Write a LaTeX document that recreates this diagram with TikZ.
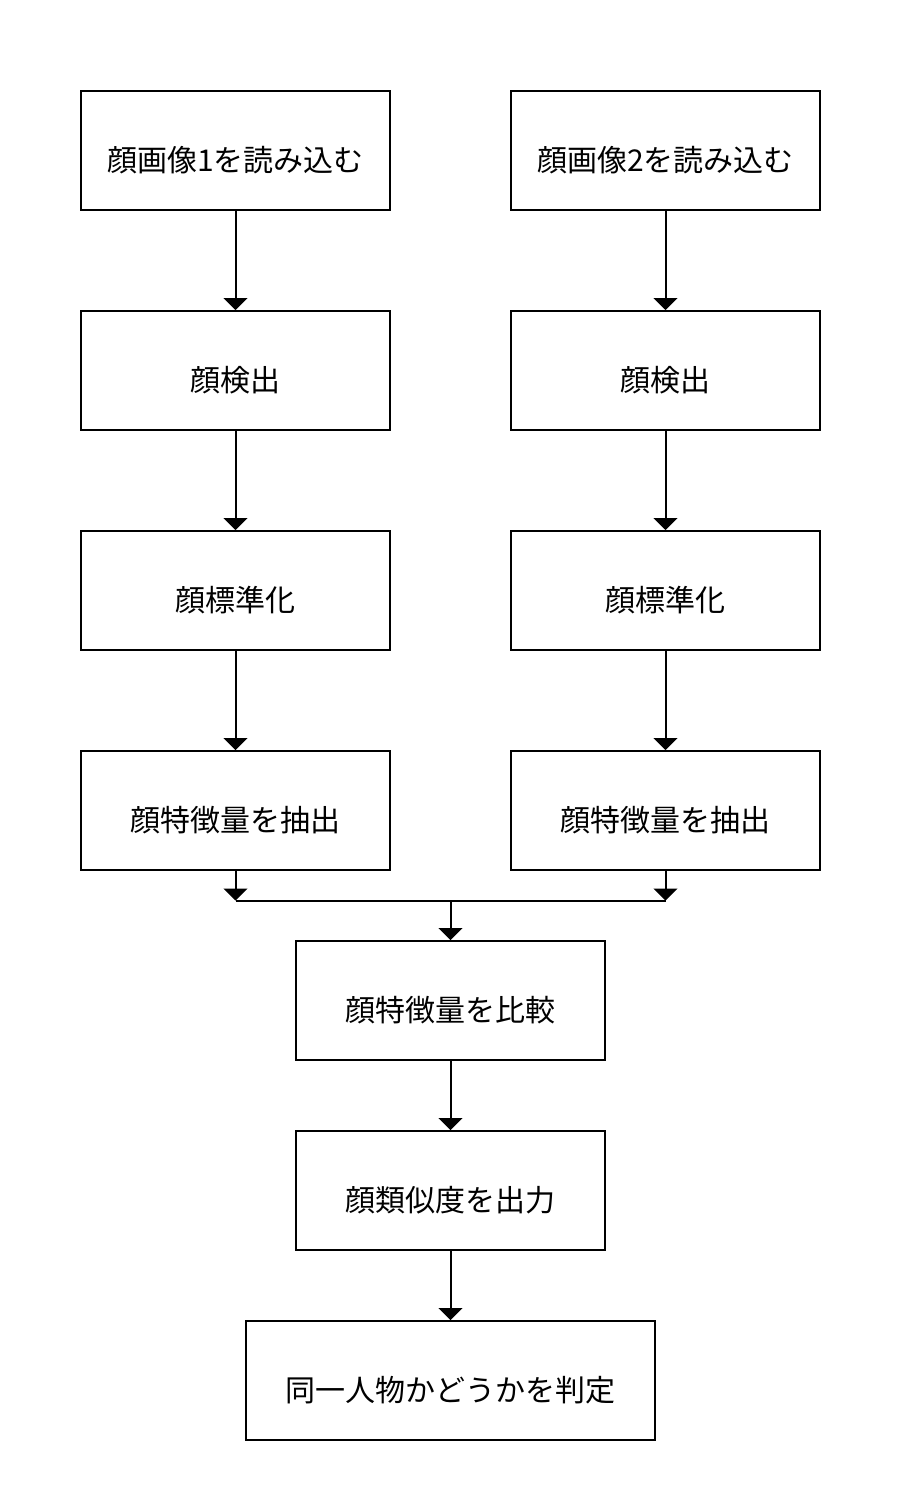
\documentclass[tikz,border=0pt]{standalone}
\usepackage{fontspec}
\setmainfont{Noto Sans CJK JP}
\usetikzlibrary{arrows.meta}
\begin{document}
\begin{tikzpicture}[x=0.75pt,y=-0.75pt,
  box/.style={draw, line width=1.5pt, inner sep=0pt, text height=31pt, text depth=0pt,
    minimum width=309*0.75pt, minimum height=119*0.75pt, font=\fontsize{22.5}{27}\selectfont},
  conn/.style={line width=1.5pt, -{Triangle[width=18pt,length=9pt]}},
  plain/.style={line width=1.5pt}]
\useasboundingbox (0,0) rectangle (900,1500);
\node[box] (l1) at (235.5,150.5) {顔画像1を読み込む};
\node[box] (l2) at (235.5,370.5) {顔検出};
\node[box] (l3) at (235.5,590.5) {顔標準化};
\node[box] (l4) at (235.5,810.5) {顔特徴量を抽出};
\node[box] (r1) at (665.5,150.5) {顔画像2を読み込む};
\node[box] (r2) at (665.5,370.5) {顔検出};
\node[box] (r3) at (665.5,590.5) {顔標準化};
\node[box] (r4) at (665.5,810.5) {顔特徴量を抽出};
\node[box] (c1) at (450.5,1000.5) {顔特徴量を比較};
\node[box] (c2) at (450.5,1190.5) {顔類似度を出力};
\node[box, minimum width=409*0.75pt] (c3) at (450.5,1380.5) {同一人物かどうかを判定};
\coordinate (ml) at (235.5,900.5);
\coordinate (mr) at (665.5,900.5);
\coordinate (mc) at (450.5,900.5);
\draw[conn] (l1) -- (l2);
\draw[conn] (l2) -- (l3);
\draw[conn] (l3) -- (l4);
\draw[conn] (r1) -- (r2);
\draw[conn] (r2) -- (r3);
\draw[conn] (r3) -- (r4);
\draw[conn] (l4) -- (ml);
\draw[conn] (r4) -- (mr);
\draw[plain] (ml) -- (mr);
\draw[conn] (mc) -- (c1);
\draw[conn] (c1) -- (c2);
\draw[conn] (c2) -- (c3);
\end{tikzpicture}
\end{document}
